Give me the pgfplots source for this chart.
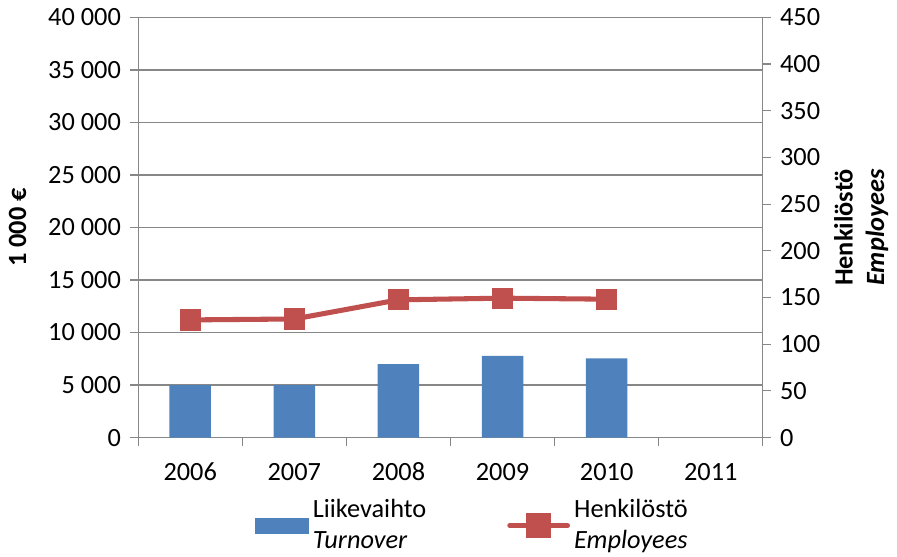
\documentclass[border=0pt]{standalone}
\usepackage{fontspec}
\setmainfont{Carlito}
\usepackage{pgfplots}
\pgfplotsset{compat=1.18}
\definecolor{barblue}{HTML}{4F81BD}
\definecolor{linered}{HTML}{C0504D}
\definecolor{gridgray}{HTML}{878787}
\begin{document}
\fontsize{13}{15.6}\selectfont
\begin{tikzpicture}
\pgfplotsset{
  every axis/.append style={
    scale only axis, width=308.5pt, height=207.5pt,
    xmin=-0.5, xmax=5.5,
    font=\fontsize{13}{15.6}\selectfont,
    /pgf/number format/assume math mode=true,
    /pgf/number format/1000 sep={\ },
    tick align=outside,
    major tick length=4pt, minor tick length=4pt,
    axis line style={gridgray, line width=0.6pt},
    every tick/.style={gridgray, line width=0.6pt},
  }
}
\begin{axis}[
  ymin=0, ymax=40000, ytick={0,5000,...,40000},
  scaled y ticks=false,
  ytick pos=left, xtick pos=bottom,
  ymajorgrids, grid style={gridgray, line width=0.6pt},
  xtick={0,1,2,3,4,5}, xticklabels={2006,2007,2008,2009,2010,2011},
  major x tick style={draw=none},
  minor xtick={-0.5,0.5,1.5,2.5,3.5,4.5,5.5},
  xticklabel style={yshift=-4pt},
  ylabel={\textbf{1 000 €}},
  ylabel style={yshift=2pt},
]
\addplot[ybar, bar width=20.5pt, fill=barblue, draw=none] coordinates {(0,5000) (1,5000) (2,7000) (3,7780) (4,7550)};
\end{axis}
\begin{axis}[
  ymin=0, ymax=450, ytick={0,50,...,450},
  axis y line*=right, axis x line=none,
  ylabel={\textbf{Henkilöstö}\\\textbf{\textit{Employees}}},
  ylabel style={align=center, yshift=2pt},
  legend style={at={(0.537,-0.135)}, anchor=north, draw=none, legend columns=2,
    inner sep=0pt,
    cells={anchor=west, align=left},
    /tikz/every even column/.append style={column sep=38pt}},
]
\addlegendimage{legend image code/.code={\fill[barblue] (0pt,-3.75pt) rectangle (26pt,3.75pt);}}
\addlegendentry{Liikevaihto\\\textit{Turnover}}
\addplot[linered, line width=2.5pt, mark=square*, mark size=5pt, mark options={line width=0pt},
  legend image code/.code={\draw[linered, line width=2.5pt, line cap=round] (0pt,0pt) -- (28.5pt,0pt); \fill[linered] (9.25pt,-5pt) rectangle (19.25pt,5pt);}]
  coordinates {(0,126) (1,127) (2,147.5) (3,149.3) (4,148.2)};
\addlegendentry{Henkilöstö\\\textit{Employees}}
\end{axis}
\end{tikzpicture}
\end{document}
